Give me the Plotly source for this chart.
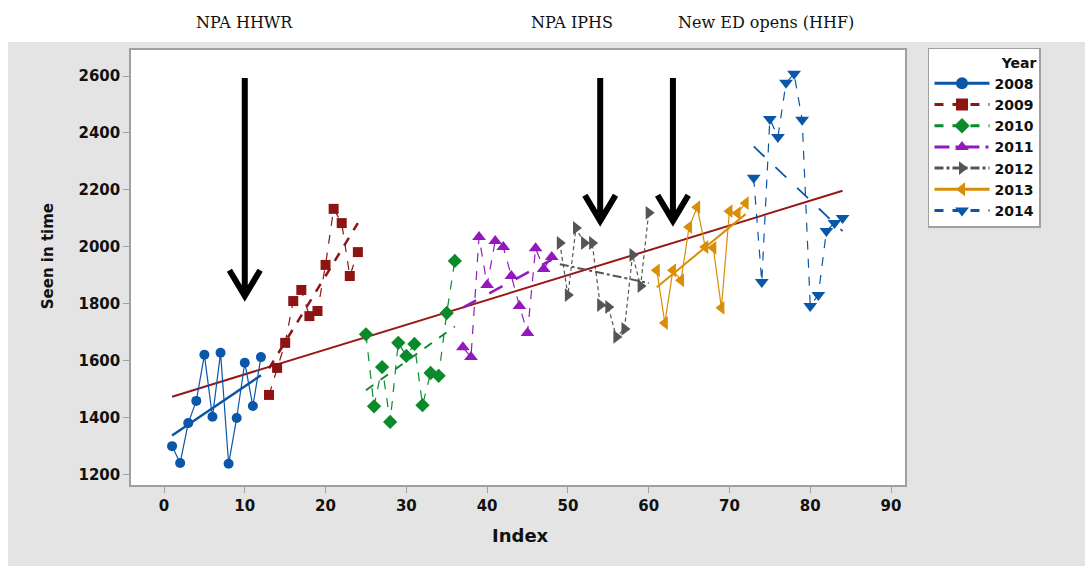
import numpy as np
import plotly.graph_objects as go

# ---------------- data ----------------
years = ["2008", "2009", "2010", "2011", "2012", "2013", "2014"]
months_per_year = 12

seen_2008 = [1299, 1240, 1380, 1458, 1620, 1402, 1627, 1237, 1398, 1592, 1440, 1612]
seen_2009 = [1479, 1574, 1662, 1809, 1848, 1756, 1774, 1936, 2133, 2083, 1897, 1981]
seen_2010 = [1692, 1439, 1577, 1384, 1662, 1616, 1658, 1443, 1556, 1546, 1767, 1950]
seen_2011 = [1647, 1612, 2034, 1865, 2020, 1999, 1897, 1792, 1697, 1995, 1922, 1964]
seen_2012 = [2013, 1830, 2066, 2013, 2013, 1795, 1788, 1683, 1711, 1971, 1862, 2119]
seen_2013 = [1917, 1732, 1917, 1882, 2069, 2139, 1999, 1996, 1785, 2125, 2118, 2153]
seen_2014 = [2242, 1876, 2449, 2386, 2576, 2608, 2446, 1792, 1830, 2055, 2083, 2101]

x_ticks = [0, 10, 20, 30, 40, 50, 60, 70, 80, 90]
y_ticks = [1200, 1400, 1600, 1800, 2000, 2200, 2400, 2600]

event_labels = ["NPA HHWR", "NPA IPHS", "New ED opens (HHF)"]
event_label_index = [10, 50.5, 74.5]
arrow_index = [10, 54, 63]
arrow_top = 2593
arrow_tip = [1827, 2091, 2091]

# ---------------- styles ----------------
colors = ["#0a56a8", "#8e1414", "#0b8a2c", "#9419bd", "#555555", "#d98e06", "#0a56a8"]
symbols = ["circle", "square", "diamond", "triangle-up", "triangle-right", "triangle-left", "triangle-down"]
msizes = [10, 10, 11, 12, 12, 12, 12]
conn_dash = ["solid", "dash", "dash", "dash", "4px,3px", "solid", "dash"]
fit_dash = ["solid", "dash", "dash", "longdash", "dashdot", "solid", "longdash"]
fit_width = [2.5, 2.5, 2, 2.5, 2, 2, 1.8]
legend_dash = ["solid", "dash", "dash", "longdashdot", "dashdot", "solid", "dash"]
overall_color = "#9a1616"

series = [seen_2008, seen_2009, seen_2010, seen_2011, seen_2012, seen_2013, seen_2014]

fig = go.Figure()

# overall regression
all_y = np.concatenate([np.array(s, dtype=float) for s in series])
all_x = np.arange(1, len(all_y) + 1)
b, a = np.polyfit(all_x, all_y, 1)
fig.add_trace(go.Scatter(x=[all_x[0], all_x[-1]], y=[a + b * all_x[0], a + b * all_x[-1]],
                         mode="lines", line=dict(color=overall_color, width=2),
                         showlegend=False, hoverinfo="skip"))

for i, (yr, vals) in enumerate(zip(years, series)):
    xs = np.arange(i * months_per_year + 1, (i + 1) * months_per_year + 1)
    ys = np.array(vals, dtype=float)
    fig.add_trace(go.Scatter(x=xs, y=ys, mode="lines+markers",
                             line=dict(color=colors[i], width=1.2, dash=conn_dash[i]),
                             marker=dict(symbol=symbols[i], size=msizes[i], color=colors[i]),
                             showlegend=False, name=yr))
    bb, aa = np.polyfit(xs, ys, 1)
    fig.add_trace(go.Scatter(x=[xs[0], xs[-1]], y=[aa + bb * xs[0], aa + bb * xs[-1]],
                             mode="lines", line=dict(color=colors[i], width=fit_width[i], dash=fit_dash[i]),
                             showlegend=False, hoverinfo="skip"))

# legend-only traces
for i, yr in enumerate(years):
    fig.add_trace(go.Scatter(x=[None], y=[None], mode="lines+markers", name=yr,
                             line=dict(color=colors[i], width=3, dash=legend_dash[i]),
                             marker=dict(symbol=symbols[i], size=12, color=colors[i])))

shapes = []
shapes.append(dict(type="rect", xref="paper", yref="paper", x0=-0.159, x1=1.24, y0=-0.2, y1=1.0184,
                   fillcolor="#e4e4e4", line=dict(width=0), layer="below"))
shapes.append(dict(type="rect", xref="paper", yref="paper", x0=0, x1=1, y0=0, y1=1,
                   fillcolor="white", line=dict(width=0), layer="below"))
dx = 1.9
dy = 90
for xa, tip in zip(arrow_index, arrow_tip):
    path = (f"M {xa},{arrow_top} L {xa},{tip} "
            f"M {xa - dx},{tip + dy} L {xa},{tip} L {xa + dx},{tip + dy}")
    shapes.append(dict(type="path", xref="x", yref="y", path=path,
                       line=dict(color="black", width=6)))

annotations = []
for lab, xi in zip(event_labels, event_label_index):
    annotations.append(dict(text=lab, x=xi, xref="x", y=1.0, yref="paper", yshift=16,
                            yanchor="bottom", showarrow=False,
                            font=dict(family="DejaVu Serif", size=16, color="#111111")))

annotations.append(dict(text="<b>Seen in time</b>", x=-0.1072, y=0.526, xref="paper", yref="paper",
                        xanchor="center", yanchor="middle",
                        textangle=-90, showarrow=False,
                        font=dict(family="DejaVu Sans", size=15, color="#111111")))
annotations.append(dict(text="<b>Index</b>", x=0.5026, y=-0.115, xref="paper", yref="paper",
                        xanchor="center", yanchor="middle",
                        showarrow=False, font=dict(family="DejaVu Sans", size=18, color="#111111")))

axis_common = dict(showgrid=False, zeroline=False, showline=True, mirror=True,
                   linecolor="#a0a0a0", linewidth=1.5, ticks="outside", ticklen=6,
                   tickcolor="#a0a0a0", tickwidth=1,
                   tickfont=dict(family="DejaVu Sans", size=15, color="#111111", weight="bold"))

fig.update_layout(
    width=1085, height=566,
    margin=dict(l=131, r=180, t=50, b=81),
    paper_bgcolor="white", plot_bgcolor="white",
    xaxis=dict(range=[-4.085, 91.73], tickvals=x_ticks, **axis_common),
    yaxis=dict(range=[1162.4, 2691.4], tickvals=y_ticks, **axis_common),
    shapes=shapes, annotations=annotations,
    legend=dict(x=1.0297, y=1.0046, xanchor="left", yanchor="top",
                bgcolor="white", bordercolor="#a0a0a0", borderwidth=1.5,
                font=dict(family="DejaVu Sans", size=14, color="#111111", weight="bold"),
                title=dict(text="<b>Year</b>", side="top right",
                           font=dict(family="DejaVu Sans", size=14, color="#111111")),
                itemwidth=55, tracegroupgap=0),
    showlegend=True,
)

fig.write_html("out.html")
